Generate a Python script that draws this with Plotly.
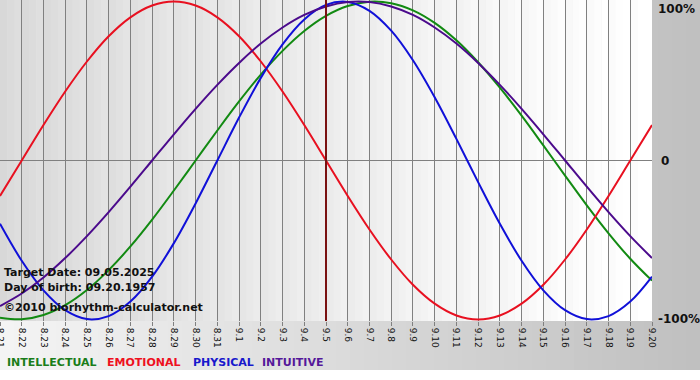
import plotly.graph_objects as go

# ---- data ----
days = ["8.21", "8.22", "8.23", "8.24", "8.25", "8.26", "8.27", "8.28", "8.29", "8.30", "8.31",
        "9.1", "9.2", "9.3", "9.4", "9.5", "9.6", "9.7", "9.8", "9.9", "9.10",
        "9.11", "9.12", "9.13", "9.14", "9.15", "9.16", "9.17", "9.18", "9.19", "9.20"]

physical = [-0.398, -0.631, -0.817, -0.942, -0.998, -0.979, -0.888, -0.731, -0.520, -0.270,
            0.000, 0.270, 0.520, 0.731, 0.888, 0.979, 0.998, 0.942, 0.817, 0.631,
            0.398, 0.136, -0.136, -0.398, -0.631, -0.817, -0.942, -0.998, -0.979, -0.888, -0.731]

emotional = [-0.223, 0.000, 0.223, 0.434, 0.623, 0.782, 0.901, 0.975, 1.000, 0.975,
             0.901, 0.782, 0.623, 0.434, 0.223, 0.000, -0.223, -0.434, -0.623, -0.782,
             -0.901, -0.975, -1.000, -0.975, -0.901, -0.782, -0.623, -0.434, -0.223, 0.000, 0.223]

intellectual = [-0.990, -0.999, -0.972, -0.910, -0.815, -0.690, -0.541, -0.372, -0.189, 0.000,
                0.189, 0.372, 0.541, 0.690, 0.815, 0.910, 0.972, 0.999, 0.990, 0.945,
                0.866, 0.756, 0.618, 0.458, 0.282, 0.095, -0.095, -0.282, -0.458, -0.618, -0.756]

intuitive = [-0.916, -0.837, -0.736, -0.614, -0.476, -0.325, -0.165, 0.000, 0.165, 0.325,
             0.476, 0.614, 0.736, 0.837, 0.916, 0.969, 0.997, 0.997, 0.969, 0.916,
             0.837, 0.736, 0.614, 0.476, 0.325, 0.165, 0.000, -0.165, -0.325, -0.476, -0.614]

target_index = 15  # 9.5
y_labels = ["100%", "0", "-100%"]
y_label_vals = [1, 0, -1]
info_lines = ["Target Date: 09.05.2025", "Day of birth: 09.20.1957", "©2010 biorhythm-calculator.net"]
legend_names = ["INTELLECTUAL", "EMOTIONAL", "PHYSICAL", "INTUITIVE"]

# ---- styling ----
line_colors = {"INTELLECTUAL": "#128a12", "EMOTIONAL": "#e81020", "PHYSICAL": "#1010d8", "INTUITIVE": "#4b0a8c"}
legend_colors = {"INTELLECTUAL": "#1a7d1a", "EMOTIONAL": "#ee1020", "PHYSICAL": "#1818cc", "INTUITIVE": "#55189a"}
legend_x = {"INTELLECTUAL": 7, "EMOTIONAL": 107, "PHYSICAL": 193, "INTUITIVE": 262}

PLOT_W, PLOT_H = 652, 321
xs = list(range(len(days)))

fig = go.Figure()
series = [("INTELLECTUAL", intellectual), ("EMOTIONAL", emotional),
          ("PHYSICAL", physical), ("INTUITIVE", intuitive)]
for name, vals in series:
    fig.add_trace(go.Scatter(x=xs, y=vals, mode="lines", name=name,
                             line=dict(color=line_colors[name], width=2, shape="spline", smoothing=1.0),
                             hoverinfo="skip"))

shapes = []
# paper gradient (outer background)
n_sl = 50
for i in range(n_sl):
    p0 = 700 * i / n_sl
    p1 = 700 * (i + 1) / n_sl + 0.5
    g = int(round(244 - (244 - 192) * (i / (n_sl - 1))))
    shapes.append(dict(type="rect", xref="paper", yref="paper",
                       x0=p0 / PLOT_W, x1=p1 / PLOT_W, y0=(PLOT_H - 370) / PLOT_H, y1=1.0,
                       fillcolor=f"rgb({g},{g},{g})", line_width=0, layer="below"))
# plot-area stripes
ncol = len(days) - 1
for i in range(ncol):
    base = 216 + (252 - 216) * (i / (ncol - 1))
    for j in range(3):
        g = int(round(min(255, base + j * 3)))
        shapes.append(dict(type="rect", xref="x", yref="paper",
                           x0=i + j / 3, x1=i + (j + 1) / 3 + 0.02, y0=0, y1=1,
                           fillcolor=f"rgb({g},{g},{g})", line_width=0, layer="below"))
# target line
shapes.append(dict(type="line", xref="x", yref="paper", x0=target_index, x1=target_index,
                   y0=0, y1=1, line=dict(color="#7a1212", width=2), layer="above"))

annotations = []
for txt, v in zip(y_labels, y_label_vals):
    annotations.append(dict(xref="paper", yref="y", x=1, y=v, text=txt, showarrow=False,
                            xanchor="left", xshift=4 if txt != "0" else 7,
                            yanchor="top" if v == 1 else "middle", yshift=2 if v == 1 else 0,
                            font=dict(family="DejaVu Sans", size=12, color="#111111", weight="bold")))
info_y = [272, 287, 307]
for txt, py in zip(info_lines, info_y):
    annotations.append(dict(xref="paper", yref="paper", x=0, y=0, text=txt, showarrow=False,
                            xanchor="left", yanchor="middle", xshift=2, yshift=PLOT_H - py,
                            font=dict(family="DejaVu Sans", size=11, color="#111111", weight="bold")))
for name in legend_names:
    annotations.append(dict(xref="paper", yref="paper", x=0, y=0, text=name, showarrow=False,
                            xanchor="left", yanchor="middle", xshift=legend_x[name] - 2,
                            yshift=PLOT_H - 362,
                            font=dict(family="DejaVu Sans", size=11, color=legend_colors[name], weight="bold")))

fig.update_layout(
    width=700, height=380,
    margin=dict(l=0, r=48, t=0, b=59, pad=0, autoexpand=False),
    paper_bgcolor="white",
    plot_bgcolor="rgba(0,0,0,0)",
    showlegend=False,
    shapes=shapes,
    annotations=annotations,
    xaxis=dict(range=[0, len(days) - 1], tickvals=xs, ticktext=days, tickangle=90,
               tickfont=dict(family="DejaVu Sans", size=9, color="#111111"),
               ticks="outside", ticklen=4, tickcolor="#808080", ticklabeloverflow="allow",
               showgrid=True, gridcolor="#808080", gridwidth=1, automargin=False,
               zeroline=False, showline=False, fixedrange=True),
    yaxis=dict(range=[-1.01, 1.01], tickvals=[0], showticklabels=False, automargin=False,
               showgrid=True, gridcolor="#808080", gridwidth=1,
               zeroline=False, showline=False, fixedrange=True),
)

fig.write_html("out.html", config={"displayModeBar": False},
               post_script="document.body.style.margin='0px';document.body.style.overflow='hidden';")
